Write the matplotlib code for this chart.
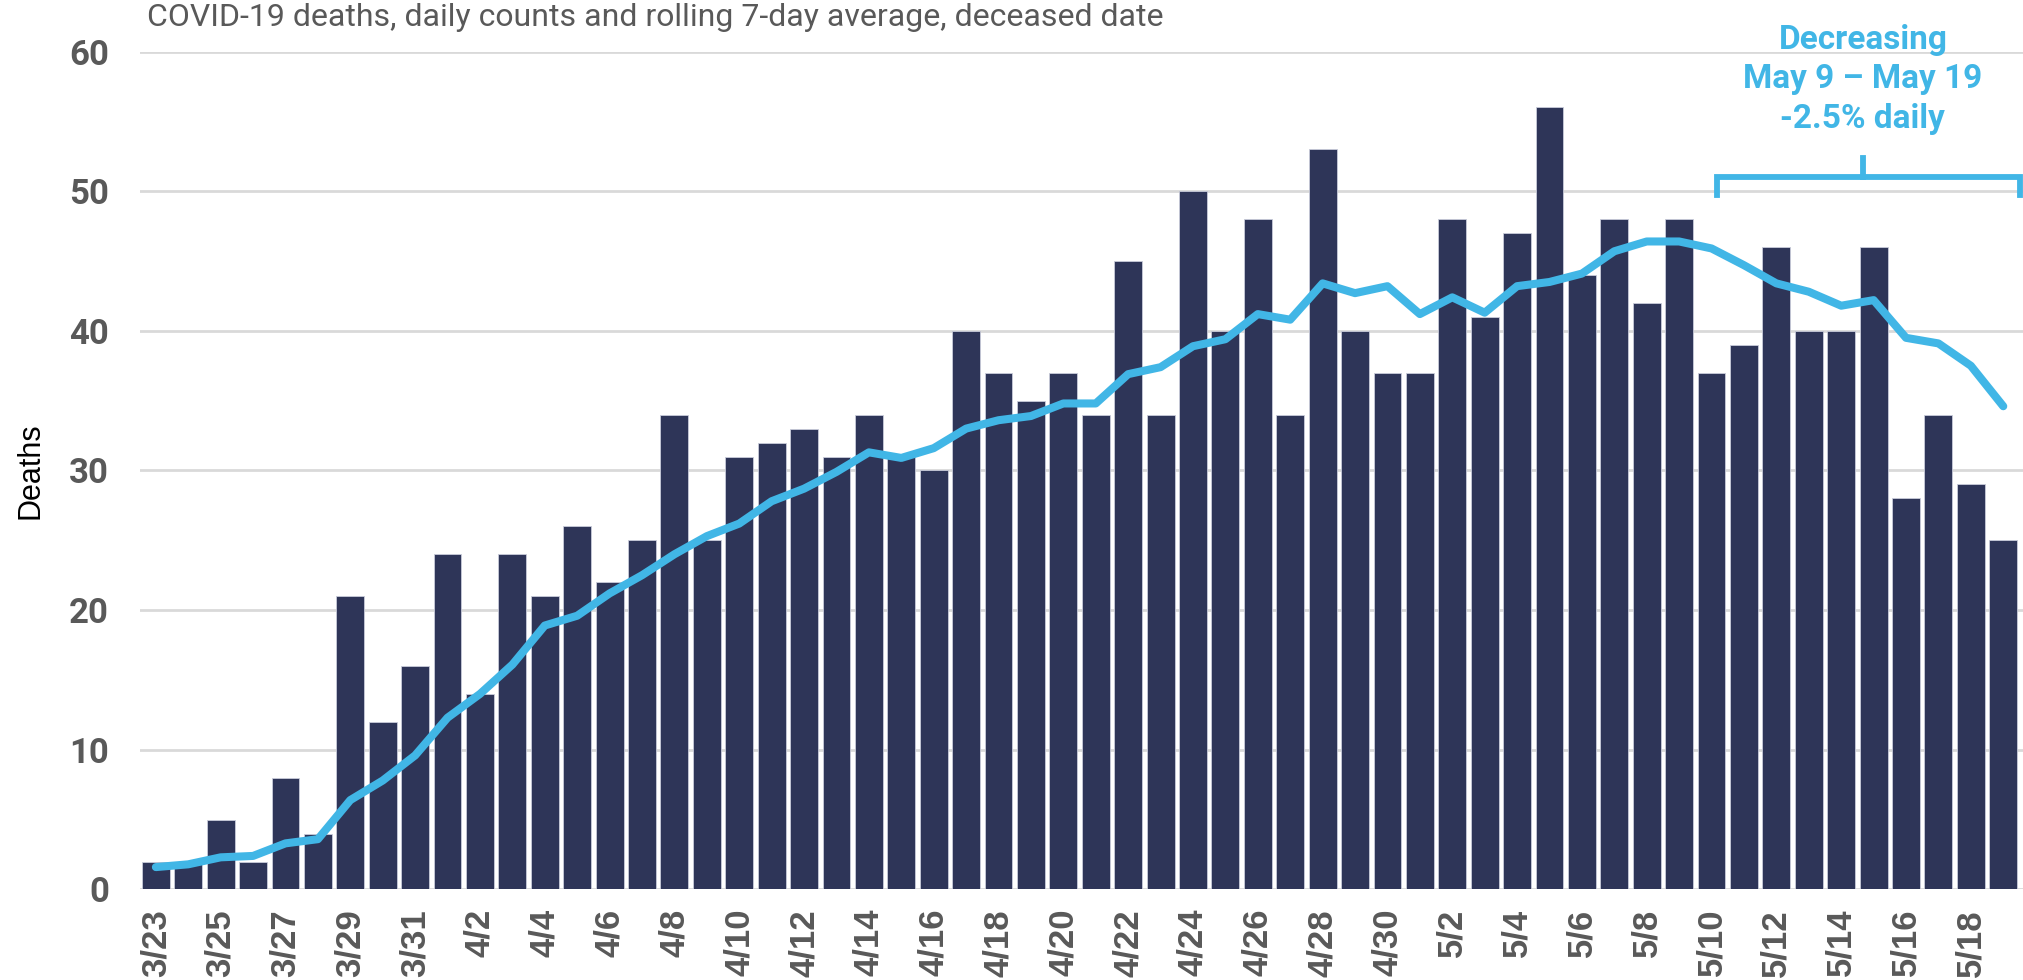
import matplotlib.pyplot as plt
import pandas as pd

days = pd.date_range('2020-03-23', '2020-05-19')
day_labels = [f'{d.month}/{d.day}' for d in days]

deaths = [2, 2, 5, 2, 8, 4, 21, 12, 16,
          24, 14, 24, 21, 26, 22, 25, 34, 25, 31,
          32, 33, 31, 34, 31, 30, 40, 37, 35, 37,
          34, 45, 34, 50, 40, 48, 34, 53, 40, 37,
          37, 48, 41, 47, 56, 44, 48, 42, 48, 37,
          39, 46, 40, 40, 46, 28, 34, 29, 25]

rolling_avg = [1.6, 1.8, 2.3, 2.4, 3.3, 3.6, 6.4, 7.8, 9.6,
               12.3, 14.0, 16.1, 18.9, 19.6, 21.2, 22.5, 24.0, 25.3, 26.2,
               27.8, 28.7, 29.9, 31.3, 30.9, 31.6, 33.0, 33.6, 33.9, 34.8,
               34.8, 36.9, 37.4, 38.9, 39.4, 41.2, 40.8, 43.4, 42.7, 43.2,
               41.2, 42.4, 41.3, 43.2, 43.5, 44.1, 45.7, 46.4, 46.4, 45.9,
               44.7, 43.4, 42.8, 41.8, 42.2, 39.5, 39.1, 37.5, 34.6]

bar_color = '#2E3558'
line_color = '#41B6E6'
gray = '#595959'
narrow = ['Liberation Sans Narrow', 'Roboto', 'DejaVu Sans']

fig = plt.figure(figsize=(20.24, 9.8), dpi=100)
ax = fig.add_axes([0.069, 0.0924, 0.931, 0.855])

x = list(range(len(deaths)))
ax.bar(x, deaths, width=0.86, color=bar_color, edgecolor='#C9CCDA', linewidth=0.6, zorder=2)
ax.plot(x, rolling_avg, color=line_color, linewidth=5.8, solid_capstyle='round',
        solid_joinstyle='round', zorder=3)

ax.set_xlim(-0.5, 57.64)
ax.set_ylim(0, 60)
ax.set_yticks([0, 10, 20, 30, 40, 50, 60])
ax.grid(axis='y', color='#D9D9D9', linewidth=2, zorder=0)
ax.set_axisbelow(True)
for s in ax.spines.values():
    s.set_visible(False)

ax.set_xticks(x[::2])
ax.set_xticklabels(day_labels[::2], rotation=90, fontsize=25, fontweight='bold',
                   color=gray, family=['Liberation Sans', 'DejaVu Sans'])
ax.tick_params(axis='x', length=0, pad=14)
ax.tick_params(axis='y', length=0, pad=22)
for lab in ax.get_yticklabels():
    lab.set_family(narrow)
    lab.set_fontsize(25)
    lab.set_fontweight('bold')
    lab.set_color(gray)

ax.set_ylabel('Deaths', fontsize=22, family=['Liberation Sans', 'DejaVu Sans'], color='black')
ax.yaxis.set_label_coords(-0.05, 0.5)

fig.text(0.0725, 0.982, 'COVID-19 deaths, daily counts and rolling 7-day average, deceased date',
         fontsize=23, color=gray, family=narrow, ha='left', va='center')

# bracket annotation for the decreasing stretch
b_left, b_right, b_mid = 48.16, 57.52, 52.67
ax.plot([b_left, b_left, b_right, b_right], [49.7, 51.0, 51.0, 49.7], color=line_color,
        linewidth=4.2, clip_on=False, zorder=4, solid_joinstyle='miter')
ax.plot([b_mid, b_mid], [51.0, 52.4], color=line_color, linewidth=4.2, clip_on=False, zorder=4)
ax.text(b_mid, 58.0, 'Decreasing\nMay 9 – May 19\n-2.5% daily', ha='center', va='center',
        fontsize=24, fontweight='bold', color=line_color, family=narrow,
        linespacing=1.3, clip_on=False)

fig.savefig('out.png', dpi=100)
